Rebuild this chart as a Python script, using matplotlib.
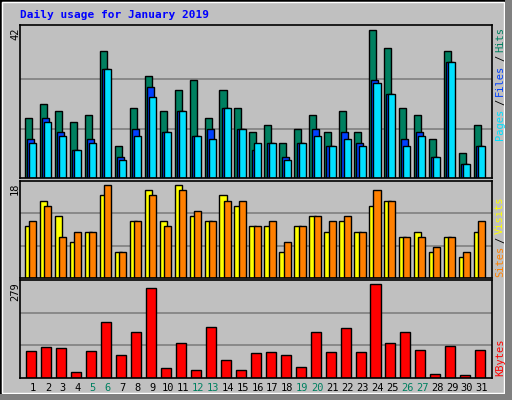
import matplotlib
matplotlib.use("Agg")
import matplotlib.pyplot as plt
from matplotlib.patches import Rectangle

days = list(range(1, 32))
hits = [17, 21, 19, 16, 18, 36, 9, 20, 29, 19, 25, 28, 17, 25, 20, 13,
        15, 10, 14, 18, 13, 19, 13, 42, 37, 20, 18, 11, 36, 7, 15]
files = [11, 17, 13, 8, 11, 31, 6, 14, 26, 13, 19, 12, 14, 20, 14, 8,
         10, 6, 10, 14, 9, 13, 10, 28, 24, 11, 13, 6, 33, 4, 9]
pages = [10, 16, 12, 8, 10, 31, 5, 12, 23, 13, 19, 12, 11, 20, 14, 10,
         10, 5, 10, 12, 9, 11, 9, 27, 24, 9, 12, 6, 33, 4, 9]
sites = [10, 15, 12, 7, 9, 16, 5, 11, 17, 11, 18, 12, 11, 16, 14, 10,
         10, 5, 10, 12, 9, 11, 9, 14, 15, 8, 9, 5, 8, 4, 9]
visits = [11, 14, 8, 9, 9, 18, 5, 11, 16, 10, 17, 13, 11, 15, 15, 10,
          11, 7, 10, 12, 11, 12, 9, 17, 15, 8, 8, 6, 8, 5, 11]
kbytes = [80, 93, 90, 19, 80, 166, 68, 138, 267, 29, 105, 25, 151, 53, 25, 74,
          77, 68, 32, 138, 77, 148, 77, 279, 105, 138, 83, 13, 96, 10, 83]
weekends = [5, 6, 12, 13, 19, 20, 26, 27]

W, H = 512, 400
fig = plt.figure(figsize=(W / 100, H / 100), dpi=100)
fig.patch.set_facecolor("#C0C0C0")
mono = "DejaVu Sans Mono"

# frame
fig.add_artist(Rectangle((0, 0), 1, 1, transform=fig.transFigure, fill=False, ec="black", lw=2))
fig.add_artist(Rectangle((2 / W, 7 / H), (W - 10) / W, (H - 9) / H, transform=fig.transFigure,
                         fill=False, ec="white", lw=1))
fig.add_artist(Rectangle(((W - 7) / W, 0), 7 / W, 1, transform=fig.transFigure, fc="#808080", ec="none"))
fig.add_artist(Rectangle((0, 0), 1, 6 / H, transform=fig.transFigure, fc="#808080", ec="none"))


def panel(top, bottom):
    ax = fig.add_axes([20 / W, 1 - bottom / H, 472 / W, (bottom - top) / H])
    ax.set_facecolor("#C0C0C0")
    ax.set_xlim(0.13, 31.67)
    ax.set_xticks([])
    ax.set_yticks([])
    for s in ax.spines.values():
        s.set_linewidth(1.2)
    return ax


def grid(ax, ymax):
    for f in (1 / 3, 2 / 3):
        ax.axhline(ymax * f, color="#808080", lw=1.2, zorder=0)


ax1 = panel(25, 178)
ax1.set_ylim(0, 43.5)
for f in (1 / 3, 2 / 3):
    ax1.axhline(43.5 * f * 0.97, color="#808080", lw=1.2, zorder=0)
x = [d for d in days]
ax1.bar([d - 0.54 for d in x], hits, width=0.47, align="edge", color="#008060", ec="black", lw=1)
ax1.bar([d - 0.39 for d in x], files, width=0.47, align="edge", color="#0040FF", ec="black", lw=1)
ax1.bar([d - 0.25 for d in x], pages, width=0.47, align="edge", color="#00E0FF", ec="black", lw=1)

ax2 = panel(181, 278)
ax2.set_ylim(0, 18.8)
grid(ax2, 18.8)
ax2.bar([d - 0.54 for d in x], sites, width=0.47, align="edge", color="#FFFF00", ec="black", lw=1)
ax2.bar([d - 0.25 for d in x], visits, width=0.47, align="edge", color="#FF8000", ec="black", lw=1)

ax3 = panel(280, 378)
ax3.set_ylim(0, 292)
grid(ax3, 292)
ax3.bar([d - 0.45 for d in x], kbytes, width=0.67, align="edge", color="#FF0000", ec="black", lw=1)

fig.text(20 / W, 1 - 15 / H, "Daily usage for January 2019", color="#0000FF",
         fontsize=8, fontweight="bold", family=mono, va="center")

for ax, lab in ((ax1, "42"), (ax2, "18"), (ax3, "279")):
    top = ax.get_position().y1
    fig.text(15 / W, top - 2 / H, lab, rotation=90, fontsize=7.5, family=mono,
             ha="center", va="top")

for d in days:
    xf = (20 + (d - 0.13) / 31.54 * 472) / W
    fig.text(xf, 1 - 388 / H, str(d), fontsize=7.5, family=mono, ha="center", va="center",
             color="#008060" if d in weekends else "black")


def side(pieces, ytop):
    y = ytop
    for txt, col in pieces:
        fig.text(500 / W, 1 - y / H, txt, rotation=90, fontsize=7.5, family=mono,
                 color=col, ha="center", va="top")
        y += len(txt) * 6.3 + 3


side([("Hits", "#008060"), ("/", "black"), ("Files", "#0040FF"), ("/", "black"),
      ("Pages", "#00E0FF")], 27)
side([("Visits", "#FFFF00"), ("/", "black"), ("Sites", "#FF8000")], 196)
side([("KBytes", "#FF0000")], 338)

fig.savefig("out.png", dpi=100, facecolor=fig.get_facecolor())
